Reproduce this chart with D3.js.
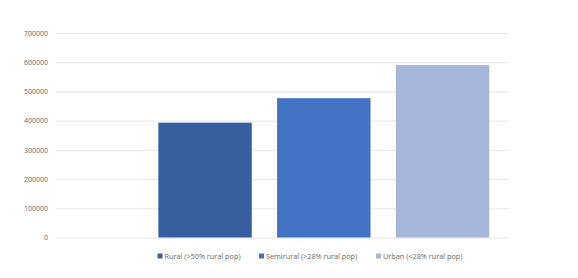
<!DOCTYPE html>
<html>
<head>
<meta charset="utf-8">
<script src="https://cdn.jsdelivr.net/npm/d3@7"></script>
<style>
  body { margin: 0; background: #fff; }
  text { font-family: "Open Sans", sans-serif; }
</style>
</head>
<body>
<div id="chart"></div>
<script>
let series = ["Rural (>50% rural pop)", "Semirural (>28% rural pop)", "Urban (<28% rural pop)"];
let values = [393000, 477000, 590000];
let colors = ["#375e9e", "#4573c3", "#a6b5da"];
let yTicks = [0, 100000, 200000, 300000, 400000, 500000, 600000, 700000];

let width = 578;
let height = 278;
let plotLeft = 56;
let plotRight = 509;
let plotTop = 33;
let plotBottom = 237.5;

let svg = d3.select("#chart").append("svg")
  .attr("width", width)
  .attr("height", height);

let scaleY = d3.scaleLinear()
  .domain([0, 700000])
  .range([plotBottom, plotTop]);

let scaleX = d3.scaleBand()
  .domain(series)
  .range([145.7, 501.9])
  .paddingInner(0.213)
  .paddingOuter(0.1065);

// gridlines + labels
let axisY = d3.axisLeft(scaleY)
  .tickValues(yTicks)
  .tickFormat(d3.format("d"))
  .tickSize(-(plotRight - plotLeft))
  .tickPadding(8);

let axis = svg.append("g")
  .attr("class", "axis--y")
  .attr("transform", `translate(${plotLeft}, 0)`)
  .call(axisY);

axis.select(".domain").remove();
axis.selectAll("line").attr("stroke", "#e6e6e6").attr("stroke-width", 1);
axis.selectAll("text")
  .style("font-size", "7px")
  .style("fill", "#666666")
  .attr("x", -8);

// bars
svg.append("g").selectAll("rect")
  .data(series)
  .join("rect")
  .attr("x", d => scaleX(d))
  .attr("width", scaleX.bandwidth())
  .attr("y", (d, i) => scaleY(values[i]))
  .attr("height", (d, i) => plotBottom - scaleY(values[i]))
  .attr("fill", (d, i) => colors[i]);

// legend
let legendX = [157.5, 259, 376];
let legend = svg.append("g").selectAll("g")
  .data(series)
  .join("g")
  .attr("transform", (d, i) => `translate(${legendX[i]}, 256)`);

legend.append("rect")
  .attr("x", 0)
  .attr("y", -2.5)
  .attr("width", 5)
  .attr("height", 5)
  .attr("fill", (d, i) => colors[i]);

legend.append("text")
  .attr("x", 7)
  .attr("dy", "0.35em")
  .style("font-size", "7.3px")
  .style("fill", "#666666")
  .text(d => d);
</script>
</body>
</html>
